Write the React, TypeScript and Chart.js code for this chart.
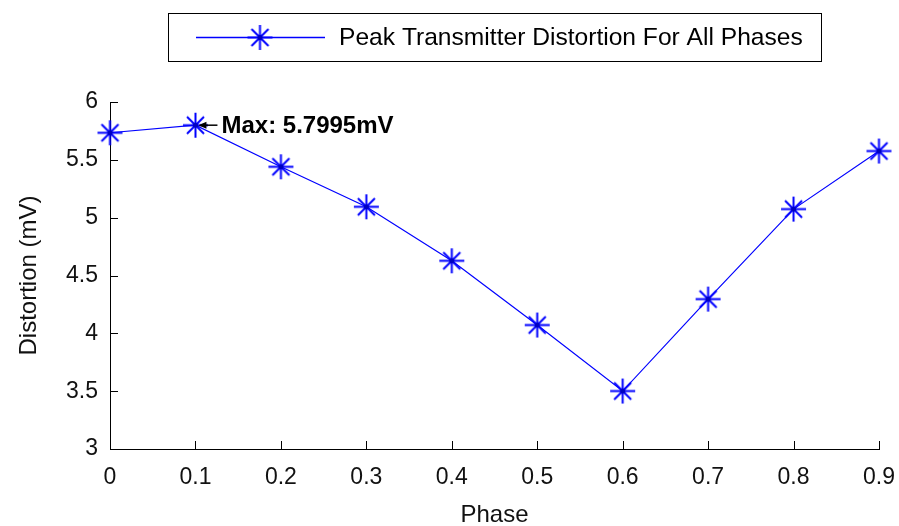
import React, { useEffect, useRef } from 'react';
import { Chart, registerables } from 'chart.js';

Chart.register(...registerables);

// ---- data ----
const phase = [0, 0.1, 0.2, 0.3, 0.4, 0.5, 0.6, 0.7, 0.8, 0.9];
const distortion = [5.734, 5.7995, 5.44, 5.094, 4.627, 4.072, 3.501, 4.296, 5.074, 5.576];
const xTicks = [0, 0.1, 0.2, 0.3, 0.4, 0.5, 0.6, 0.7, 0.8, 0.9];
const xTickLabels = ['0', '0.1', '0.2', '0.3', '0.4', '0.5', '0.6', '0.7', '0.8', '0.9'];
const yTicks = [3, 3.5, 4, 4.5, 5, 5.5, 6];
const yTickLabels = ['3', '3.5', '4', '4.5', '5', '5.5', '6'];
const seriesLabel = 'Peak Transmitter Distortion For All Phases';
const xTitle = 'Phase';
const yTitle = 'Distortion (mV)';
const maxPhase = 0.1;
const maxValue = 5.7995;
const maxText = 'Max: 5.7995mV';

const FONT = "'Liberation Sans', Arial, Helvetica, sans-serif";
const BLUE = '#0000ff';

function makeStar(): HTMLCanvasElement {
  const c = document.createElement('canvas');
  const s = 27;
  c.width = s;
  c.height = s;
  const g = c.getContext('2d')!;
  const m = s / 2;
  g.strokeStyle = BLUE;
  g.lineWidth = 2;
  g.beginPath();
  g.moveTo(m, 1);
  g.lineTo(m, s - 1);
  g.moveTo(1, m);
  g.lineTo(s - 1, m);
  const d = 8.5;
  g.moveTo(m - d, m - d);
  g.lineTo(m + d, m + d);
  g.moveTo(m + d, m - d);
  g.lineTo(m - d, m + d);
  g.stroke();
  g.fillStyle = '#0000c0';
  g.beginPath();
  g.arc(m, m, 2.5, 0, Math.PI * 2);
  g.fill();
  return c;
}

export default function App() {
  const ref = useRef<HTMLCanvasElement | null>(null);

  useEffect(() => {
    if (!ref.current) return;
    const star = makeStar();

    const inwardTicks = {
      id: 'inwardTicks',
      beforeDatasetsDraw(chart: any) {
        const { ctx, chartArea } = chart;
        const xs = chart.scales.x;
        const ys = chart.scales.y;
        ctx.save();
        ctx.strokeStyle = '#000';
        ctx.lineWidth = 1;
        ctx.beginPath();
        xTicks.forEach((v) => {
          const px = Math.round(xs.getPixelForValue(v)) + 0.5;
          ctx.moveTo(px, chartArea.bottom);
          ctx.lineTo(px, chartArea.bottom - 8);
        });
        yTicks.forEach((v) => {
          const py = Math.round(ys.getPixelForValue(v)) + 0.5;
          ctx.moveTo(chartArea.left, py);
          ctx.lineTo(chartArea.left + 8, py);
        });
        ctx.stroke();
        ctx.restore();
      },
    };

    const annotation = {
      id: 'maxAnnotation',
      afterDatasetsDraw(chart: any) {
        const { ctx } = chart;
        const px = chart.scales.x.getPixelForValue(maxPhase);
        const py = chart.scales.y.getPixelForValue(maxValue);
        ctx.save();
        ctx.strokeStyle = '#000';
        ctx.fillStyle = '#000';
        ctx.lineWidth = 1.5;
        ctx.beginPath();
        ctx.moveTo(px + 5, py);
        ctx.lineTo(px + 22, py);
        ctx.stroke();
        ctx.beginPath();
        ctx.moveTo(px + 3, py);
        ctx.lineTo(px + 11, py - 3.5);
        ctx.lineTo(px + 11, py + 3.5);
        ctx.closePath();
        ctx.fill();
        ctx.font = `bold 24px ${FONT}`;
        ctx.textBaseline = 'middle';
        ctx.textAlign = 'left';
        ctx.fillText(maxText, px + 26, py + 1);
        ctx.restore();
      },
    };

    const legendBox = {
      id: 'legendBox',
      afterDraw(chart: any) {
        const { ctx } = chart;
        ctx.save();
        ctx.fillStyle = '#fff';
        ctx.fillRect(168.5, 13.5, 653, 48);
        ctx.strokeStyle = '#000';
        ctx.lineWidth = 1;
        ctx.strokeRect(168.5, 13.5, 653, 48);
        const cy = 37.5;
        ctx.strokeStyle = BLUE;
        ctx.lineWidth = 1.5;
        ctx.beginPath();
        ctx.moveTo(196, cy);
        ctx.lineTo(325, cy);
        ctx.stroke();
        ctx.drawImage(star, 260 - star.width / 2, cy - star.height / 2);
        ctx.fillStyle = '#000';
        ctx.font = `24.6px ${FONT}`;
        ctx.textBaseline = 'middle';
        ctx.textAlign = 'left';
        ctx.fillText(chart.data.datasets[0].label, 339, cy + 1);
        ctx.restore();
      },
    };

    const chart = new Chart(ref.current, {
      type: 'line',
      data: {
        datasets: [
          {
            label: seriesLabel,
            data: phase.map((p, i) => ({ x: p, y: distortion[i] })),
            borderColor: BLUE,
            backgroundColor: BLUE,
            borderWidth: 1.2,
            pointStyle: star as any,
            pointRadius: 12,
            pointHoverRadius: 12,
            tension: 0,
            clip: false as any,
          },
        ],
      },
      options: {
        animation: false,
        responsive: false,
        devicePixelRatio: 1,
        layout: { padding: { top: 102, right: 20, left: 0, bottom: 0 } },
        plugins: {
          legend: { display: false },
          tooltip: { enabled: false },
        },
        scales: {
          x: {
            type: 'linear',
            min: 0,
            max: 0.9,
            afterBuildTicks: (s: any) => {
              s.ticks = xTicks.map((v) => ({ value: v }));
            },
            afterFit: (s: any) => {
              s.height = 77;
              s.paddingLeft = 0;
              s.paddingRight = 0;
            },
            grid: { display: false, drawTicks: false },
            border: { display: true, color: '#000', width: 1 },
            ticks: {
              padding: 15,
              color: '#111',
              font: { family: FONT, size: 23 },
              maxRotation: 0,
              autoSkip: false,
              callback: (_v: any, i: number) => xTickLabels[i],
            },
            title: {
              display: true,
              text: xTitle,
              color: '#111',
              font: { family: FONT, size: 24, lineHeight: 1 },
              padding: { top: 0, bottom: -1 },
            },
          },
          y: {
            type: 'linear',
            min: 3,
            max: 6,
            afterBuildTicks: (s: any) => {
              s.ticks = yTicks.map((v) => ({ value: v }));
            },
            afterFit: (s: any) => {
              s.width = 110;
              s.paddingTop = 0;
              s.paddingBottom = 0;
            },
            grid: { display: false, drawTicks: false },
            border: { display: true, color: '#000', width: 1 },
            ticks: {
              padding: 12,
              color: '#111',
              font: { family: FONT, size: 23 },
              autoSkip: false,
              callback: (_v: any, i: number) => yTickLabels[i],
            },
            title: {
              display: true,
              text: yTitle,
              color: '#111',
              font: { family: FONT, size: 24, lineHeight: 1 },
              padding: { top: 17, bottom: 0 },
            },
          },
        },
      },
      plugins: [inwardTicks, annotation, legendBox],
    });

    return () => chart.destroy();
  }, []);

  return (
    <div style={{ position: 'fixed', left: 0, top: 0, width: 899, height: 526, background: '#fff' }}>
      <canvas ref={ref} width={899} height={526} style={{ display: 'block' }} />
    </div>
  );
}
